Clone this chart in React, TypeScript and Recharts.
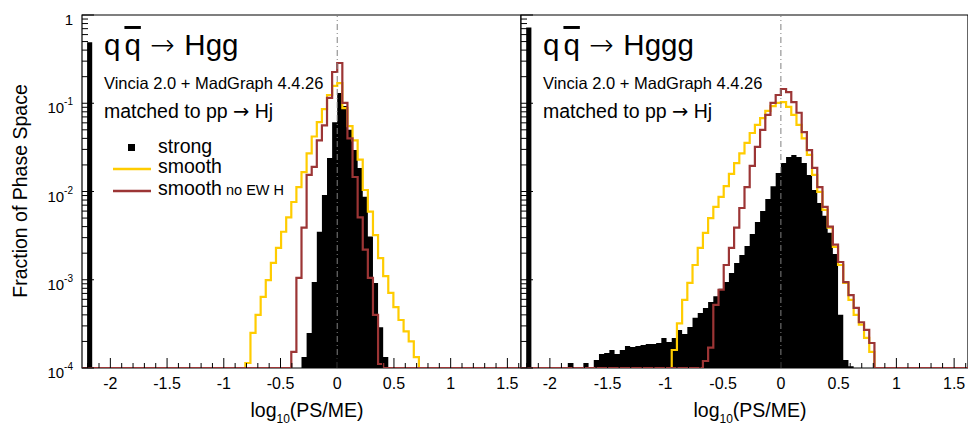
import React from "react";
import { ComposedChart, Area, Line, XAxis, YAxis, ReferenceLine, ReferenceArea } from "recharts";

const FONT = '"Liberation Sans", Arial, Helvetica, sans-serif';
const ARROW_FONT = '"DejaVu Sans", sans-serif';
const BIN = 0.045;
const FLOOR = 1e-4;
const X_MIN = -2.25;
const X_MAX = 1.62;
const FIRST_BIN = -50;
const LAST_BIN = 36;
const SPIKE_BIN = -49;

const PLOT_TOP = 15;
const PLOT_BOTTOM = 368;

const YELLOW = "#ffcc00";
const BROWN = "#9c3535";

// left panel: q qbar -> H g g   (values per bin, bin k starts at k*0.045)
const leftSpike = 0.49;
const leftStrongStart = -7;
const leftStrong = [1.33e-4, 2.5e-4, 9.4e-4, 3.5e-3, 9.1e-3, 2.4e-2, 6.1e-2, 0.131, 9.3e-2, 5.0e-2, 2.95e-2, 1.85e-2, 8.7e-3, 3.1e-3, 9.2e-4, 2.9e-4, 1.33e-4];
const leftSmoothStart = -18;
const leftSmooth = [
  1.14e-4, 2.5e-4, 4.0e-4, 6.4e-4, 9.9e-4, 1.55e-3, 2.3e-3, 3.5e-3, 5.1e-3, 7.6e-3, 1.12e-2, 1.66e-2, 2.7e-2, 4.2e-2, 6.1e-2, 8.6e-2, 0.124, 0.157,
  0.169, 8.8e-2, 5.5e-2, 3.8e-2, 2.3e-2, 1.04e-2, 5.9e-3, 3.2e-3, 1.76e-3, 1.1e-3, 7.1e-4, 4.9e-4, 3.5e-4, 2.6e-4, 2.0e-4, 1.33e-4,
];
const leftNoEwStart = -9;
const leftNoEw = [1.52e-4, 1.05e-3, 3.9e-3, 1.54e-2, 1.9e-2, 3.8e-2, 5.6e-2, 0.115, 0.226, 0.286, 0.101, 4.0e-2, 1.46e-2, 5.1e-3, 2.2e-3, 1.05e-3, 4.0e-4, 1.11e-4];

// right panel: q qbar -> H g g g
const rightSpike = 0.72;
const rightStrongStart = -41;
const rightStrong = [
  1.14e-4, 0, 0, 1.14e-4, 0, 1.23e-4, 1.44e-4, 1.48e-4, 1.6e-4, 1.44e-4, 1.6e-4, 1.78e-4, 1.73e-4, 1.78e-4, 1.82e-4, 1.87e-4, 1.87e-4, 1.92e-4,
  2.19e-4, 1.97e-4, 2.19e-4, 2.7e-4, 2.43e-4, 2.92e-4, 3.7e-4, 4.2e-4, 4.8e-4, 5.6e-4, 6.5e-4, 7.9e-4, 9.4e-4, 1.19e-3, 1.55e-3, 1.91e-3,
  2.41e-3, 3.3e-3, 4.5e-3, 6.0e-3, 8.2e-3, 1.15e-2, 1.62e-2, 2.1e-2, 2.46e-2, 2.6e-2, 2.46e-2, 2.1e-2, 1.54e-2, 1.04e-2, 7.4e-3, 5.3e-3,
  3.4e-3, 1.96e-3, 4.0e-4, 1.23e-4, 1.05e-4,
];
const rightSmoothStart = -21;
const rightSmooth = [
  1.6e-4, 3.2e-4, 5.9e-4, 9.2e-4, 1.47e-3, 2.3e-3, 3.4e-3, 5.0e-3, 6.7e-3, 8.7e-3, 1.15e-2, 1.58e-2, 2.1e-2, 2.7e-2, 3.55e-2, 4.6e-2, 5.7e-2,
  6.8e-2, 8.2e-2, 9.3e-2, 0.101, 0.103, 9.1e-2, 7.4e-2, 5.7e-2, 4.0e-2, 2.6e-2, 1.54e-2, 9.9e-3, 6.2e-3, 3.9e-3, 2.35e-3, 1.47e-3, 9.2e-4,
  5.9e-4, 4.0e-4, 3.1e-4, 2.2e-4, 1.52e-4,
];
const rightNoEwStart = -15;
const rightNoEw = [
  1.2e-4, 1.7e-4, 5.2e-4, 7.7e-4, 1.47e-3, 2.3e-3, 3.9e-3, 6.5e-3, 1.12e-2, 1.95e-2, 3.2e-2, 5.0e-2, 7.4e-2, 0.101, 0.124, 0.145, 0.134,
  0.103, 7.8e-2, 4.7e-2, 2.95e-2, 1.85e-2, 1.12e-2, 6.7e-3, 4.0e-3, 2.5e-3, 1.59e-3, 9.4e-4, 6.7e-4, 4.8e-4, 3.3e-4, 2.7e-4, 1.92e-4,
];

// axis ticks
const xMajor = [-2, -1.5, -1, -0.5, 0, 0.5, 1, 1.5];
const xTicks = [
  -2.2, -2.1, -2, -1.9, -1.8, -1.7, -1.6, -1.5, -1.4, -1.3, -1.2, -1.1, -1, -0.9, -0.8, -0.7, -0.6, -0.5, -0.4, -0.3, -0.2, -0.1, 0,
  0.1, 0.2, 0.3, 0.4, 0.5, 0.6, 0.7, 0.8, 0.9, 1, 1.1, 1.2, 1.3, 1.4, 1.5, 1.6,
];
const yDecades = [1e-4, 1e-3, 1e-2, 1e-1];
const yTicks: number[] = [];
yDecades.forEach((d) => {
  for (let m = 1; m <= 9; m++) yTicks.push(+(d * m).toPrecision(3));
});
yTicks.push(1);

const pick = (start: number, vals: number[], k: number) => {
  const v = vals[k - start];
  return v === undefined || v <= 0 ? FLOOR : v;
};

const buildRows = (
  spike: number,
  strongStart: number, strong: number[],
  smoothStart: number, smooth: number[],
  noEwStart: number, noEw: number[]
) => {
  const rows = [];
  for (let k = FIRST_BIN; k <= LAST_BIN; k++) {
    rows.push({
      x: +(k * BIN).toFixed(4),
      strong: k === SPIKE_BIN ? spike : pick(strongStart, strong, k),
      smooth: pick(smoothStart, smooth, k),
      noew: pick(noEwStart, noEw, k),
    });
  }
  return rows;
};

const leftRows = buildRows(leftSpike, leftStrongStart, leftStrong, leftSmoothStart, leftSmooth, leftNoEwStart, leftNoEw);
const rightRows = buildRows(rightSpike, rightStrongStart, rightStrong, rightSmoothStart, rightSmooth, rightNoEwStart, rightNoEw);

const XTick = (props: any) => {
  const { x, payload } = props;
  const v = payload.value;
  const major = xMajor.some((m) => Math.abs(m - v) < 1e-6);
  return (
    <g>
      <line x1={x} x2={x} y1={PLOT_BOTTOM} y2={PLOT_BOTTOM - (major ? 10 : 5)} stroke="#000" strokeWidth={1} />
      {major && (
        <text x={x} y={PLOT_BOTTOM + 21} textAnchor="middle" fontSize={16} fontFamily={FONT} fill="#000">
          {String(v)}
        </text>
      )}
    </g>
  );
};

const makeYTick = (plotLeft: number, showLabels: boolean) => (props: any) => {
  const { y, payload } = props;
  const v = payload.value;
  const exp = Math.log10(v);
  const major = Math.abs(exp - Math.round(exp)) < 1e-6;
  return (
    <g>
      <line x1={plotLeft} x2={plotLeft + (major ? 12 : 6)} y1={y} y2={y} stroke="#000" strokeWidth={1} />
      {showLabels && major && (
        <text x={plotLeft - 9} y={y + 10} textAnchor="end" fontSize={15} fontFamily={FONT} fill="#000">
          {v === 1 ? "1" : (
            <>
              10<tspan dy={-8} fontSize={10}>{String(Math.round(exp))}</tspan>
            </>
          )}
        </text>
      )}
    </g>
  );
};

const Panel = ({ rows, width, axisWidth, showLabels }: any) => (
  <ComposedChart width={width} height={PLOT_BOTTOM + 30} data={rows} margin={{ top: PLOT_TOP, right: 0, bottom: 0, left: 0 }}>
    <XAxis
      dataKey="x"
      type="number"
      domain={[X_MIN, X_MAX]}
      allowDataOverflow
      ticks={xTicks}
      interval={0}
      axisLine={false}
      tickLine={false}
      tickSize={0}
      tickMargin={0}
      height={30}
      tick={XTick}
    />
    <YAxis
      type="number"
      scale="log"
      domain={[FLOOR, 1]}
      allowDataOverflow
      ticks={yTicks}
      interval={0}
      axisLine={false}
      tickLine={false}
      tickSize={0}
      tickMargin={0}
      width={axisWidth}
      tick={makeYTick(axisWidth, showLabels)}
    />
    <Area
      dataKey="strong"
      type="stepAfter"
      baseValue={FLOOR}
      stroke="none"
      fill="#000"
      fillOpacity={1}
      dot={false}
      activeDot={false}
      isAnimationActive={false}
    />
    <Line dataKey="smooth" type="stepAfter" stroke={YELLOW} strokeWidth={2.2} dot={false} activeDot={false} isAnimationActive={false} />
    <Line dataKey="noew" type="stepAfter" stroke={BROWN} strokeWidth={2.2} dot={false} activeDot={false} isAnimationActive={false} />
    <ReferenceLine x={0} stroke="#808080" strokeWidth={1} strokeDasharray="6 3 1 3" ifOverflow="visible" />
    <ReferenceArea x1={X_MIN} x2={X_MAX} y1={FLOOR} y2={1} fill="none" fillOpacity={0} stroke="#000" strokeWidth={1.2} ifOverflow="visible" />
  </ComposedChart>
);

const Title = ({ x, proc }: { x: number; proc: string }) => (
  <>
    <text x={x} y={55} fontSize={29.5} fontFamily={FONT} fill="#000">
      q<tspan dx={4} style={{ textDecoration: "overline" }}>q</tspan>
      <tspan fontFamily={ARROW_FONT} fontWeight={200}>{" \u2192 "}</tspan>
      <tspan>{proc}</tspan>
    </text>
    <text x={x} y={89} fontSize={16.5} fontFamily={FONT} fill="#000">
      Vincia 2.0 + MadGraph 4.4.26
    </text>
    <text x={x} y={118} fontSize={19.5} fontFamily={FONT} fill="#000">
      matched to pp <tspan fontFamily={ARROW_FONT}>{"\u2192"}</tspan> Hj
    </text>
  </>
);

export default function App() {
  return (
    <div style={{ position: "absolute", left: 0, top: 0, width: 977, height: 429, background: "#fff", overflow: "hidden" }}>
      <div style={{ position: "absolute", left: 0, top: 0 }}>
        <Panel rows={leftRows} width={521} axisWidth={82} showLabels={true} />
      </div>
      <div style={{ position: "absolute", left: 500, top: 0 }}>
        <Panel rows={rightRows} width={468} axisWidth={21} showLabels={false} />
      </div>
      <svg width={977} height={429} style={{ position: "absolute", left: 0, top: 0, pointerEvents: "none" }}>
        <text transform="translate(27,191) rotate(-90)" textAnchor="middle" fontSize={19.5} fontFamily={FONT} fill="#000">
          Fraction of Phase Space
        </text>
        <text x={307} y={417} textAnchor="middle" fontSize={19.5} fontFamily={FONT} fill="#000">
          log<tspan dy={6} fontSize={12}>10</tspan>
          <tspan dy={-6}>(PS/ME)</tspan>
        </text>
        <text x={750} y={417} textAnchor="middle" fontSize={19.5} fontFamily={FONT} fill="#000">
          log<tspan dy={6} fontSize={12}>10</tspan>
          <tspan dy={-6}>(PS/ME)</tspan>
        </text>
        <Title x={104} proc="Hgg" />
        <Title x={543} proc="Hggg" />
        <rect x={128} y={144} width={7} height={7} fill="#000" />
        <text x={158} y={153} fontSize={19.5} fontFamily={FONT} fill="#000">strong</text>
        <line x1={113} x2={151} y1={169} y2={169} stroke={YELLOW} strokeWidth={2.5} />
        <text x={158} y={173} fontSize={19.5} fontFamily={FONT} fill="#000">smooth</text>
        <line x1={113} x2={151} y1={191} y2={191} stroke={BROWN} strokeWidth={2.5} />
        <text x={158} y={195} fontSize={19.5} fontFamily={FONT} fill="#000">
          smooth<tspan fontSize={14.5}> no EW H</tspan>
        </text>
      </svg>
    </div>
  );
}
